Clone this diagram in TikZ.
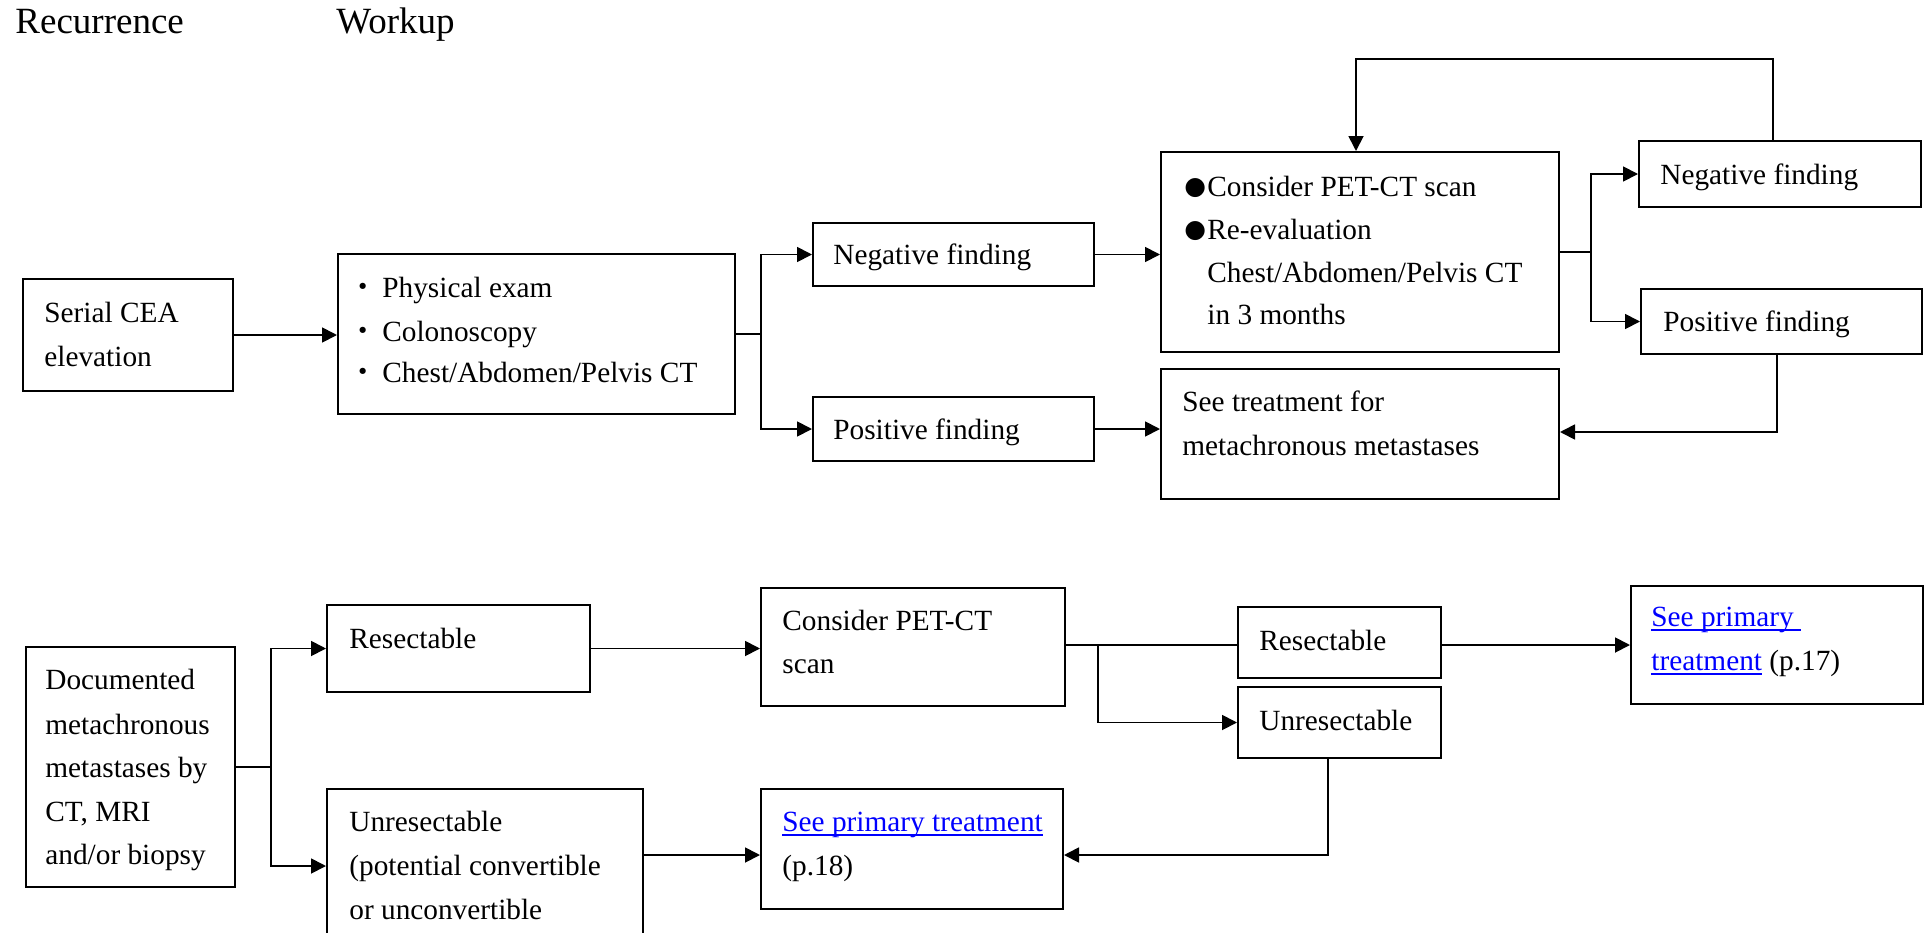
\documentclass[tikz,border=0pt]{standalone}
\usepackage{fontspec}
\setmainfont{Liberation Serif}
\newfontfamily\cjkfont{Noto Sans CJK JP}
\newfontfamily\dvsfont{DejaVu Sans}
\usetikzlibrary{arrows.meta,fit}
\definecolor{linkblue}{RGB}{0,0,255}
\newcommand\lnk[1]{\begingroup\color{linkblue}\setbox0\hbox{#1}\rlap{\rule[-2.3pt]{\wd0}{0.75pt}}\box0\endgroup}
\newcommand\wkdot{\makebox[16.75pt][l]{\cjkfont ・}}
\newcommand\bigdot{\makebox[11.5pt][l]{\raisebox{0.6pt}{\scalebox{0.85}{\dvsfont ●}}}}
\tikzset{
  x=0.5pt, y=-0.5pt,
  box/.style={draw, line width=1pt, inner sep=0pt},
  tx/.style={anchor=base west, inner sep=0pt, font=\fontsize{14.65pt}{20pt}\selectfont},
  ttl/.style={anchor=base west, inner sep=0pt, font=\fontsize{18.5pt}{22pt}\selectfont},
  ln/.style={line width=0.9pt},
  arr/.style={ln, -{Triangle[length=7.5pt,width=7.5pt]}},
}
\begin{document}
\begin{tikzpicture}
\useasboundingbox[fill=white] (0,0) rectangle (1928,932);
% titles
\node[ttl] (rec) at (15,33) {Recurrence};
\node[ttl] (wku) at (336,33) {Workup};
% ---------- top flow ----------
\node[box, fit={(23,279) (233,391)}] (cea) {};
\node[box, fit={(338,254) (735,414)}] (wk) {};
\node[box, fit={(813,223) (1094,286)}] (neg1) {};
\node[box, fit={(813,397) (1094,461)}] (pos1) {};
\node[box, fit={(1161,152) (1559,352)}] (cons) {};
\node[box, fit={(1161,369) (1559,499)}] (seet) {};
\node[box, fit={(1639,141) (1921,207)}] (neg2) {};
\node[box, fit={(1641,289) (1922,354)}] (pos2) {};
% texts
\node[tx] (tcea1) at (44,322) {Serial CEA};
\node[tx] (tcea2) at (44,366) {elevation};
\node[tx] (twk1) at (348.5,297) {\wkdot Physical exam};
\node[tx] (twk2) at (348.5,341) {\wkdot Colonoscopy};
\node[tx] (twk3) at (348.5,382) {\wkdot Chest/Abdomen/Pelvis CT};
\node[tx] (tneg1) at (833,264) {Negative finding};
\node[tx] (tpos1) at (833,439) {Positive finding};
\node[tx] (tcons1) at (1184,196) {\bigdot Consider PET-CT scan};
\node[tx] (tcons2) at (1184,239) {\bigdot Re-evaluation};
\node[tx] (tcons3) at (1207,282) {Chest/Abdomen/Pelvis CT};
\node[tx] (tcons4) at (1207,324) {in 3 months};
\node[tx] (tseet1) at (1182,411) {See treatment for};
\node[tx] (tseet2) at (1182,455) {metachronous metastases};
\node[tx] (tneg2) at (1660,184) {Negative finding};
\node[tx] (tpos2) at (1663,331) {Positive finding};
% connectors
\coordinate (j1) at (761,334);
\coordinate (j2) at (1591,253);
\coordinate (l1) at (1773,59);
\coordinate (l2) at (1356,59);
\coordinate (l3) at (1777,432);
\draw[arr] (cea.east) -- (cea.east -| wk.west);
\draw[ln] (wk.east) -- (wk.east -| j1);
\draw[arr] (wk.east -| j1) |- (neg1.west);
\draw[arr] (wk.east -| j1) |- (pos1.west);
\draw[arr] (neg1.east) -- (neg1.east -| cons.west);
\draw[arr] (pos1.east) -- (pos1.east -| seet.west);
\draw[ln] (cons.east) -- (cons.east -| j2);
\draw[arr] (cons.east -| j2) |- (neg2.west);
\draw[arr] (cons.east -| j2) |- (pos2.west);
\draw[arr] (l1 |- neg2.north) -- (l1) -- (l2) -- (l2 |- cons.north);
\draw[arr] (l3 |- pos2.south) -- (l3) -- (l3 -| seet.east);
% ---------- bottom flow ----------
\node[box, fit={(26,647) (235,887)}] (doc) {};
\node[box, fit={(327,605) (590,692)}] (res1) {};
\node[box, fit={(327,789) (643,943)}] (unres1) {};
\node[box, fit={(761,588) (1065,706)}] (cons2) {};
\node[box, fit={(761,789) (1063,909)}] (sp18) {};
\node[box, fit={(1238,607) (1441,678)}] (res2) {};
\node[box, fit={(1238,687) (1441,758)}] (unres2) {};
\node[box, fit={(1631,586) (1923,704)}] (sp17) {};
% texts
\node[tx] (tdoc1) at (45,689) {Documented};
\node[tx] (tdoc2) at (45,734) {metachronous};
\node[tx] (tdoc3) at (45,777) {metastases by};
\node[tx] (tdoc4) at (45,821) {CT, MRI};
\node[tx] (tdoc5) at (45,864) {and/or biopsy};
\node[tx] (tres1) at (349,648) {Resectable};
\node[tx] (tunres1a) at (349,831) {Unresectable};
\node[tx] (tunres1b) at (349,875) {(potential convertible};
\node[tx] (tunres1c) at (349,919) {or unconvertible};
\node[tx] (tcons2a) at (782,630) {Consider PET-CT};
\node[tx] (tcons2b) at (782,673) {scan};
\node[tx] (tsp18a) at (782,831) {\lnk{See primary treatment}};
\node[tx] (tsp18b) at (782,875) {(p.18)};
\node[tx] (tres2) at (1259,650) {Resectable};
\node[tx] (tunres2) at (1259,730) {Unresectable};
\node[tx] (tsp17a) at (1651,626) {\lnk{See primary\ }};
\node[tx] (tsp17b) at (1651,670) {\lnk{treatment} (p.17)};
% connectors
\coordinate (j3) at (271,765);
\coordinate (j4) at (1098,645);
\coordinate (c5) at (1328,855);
\draw[ln] (doc.east) -- (doc.east -| j3);
\draw[arr] (doc.east -| j3) |- (res1.west);
\draw[arr] (doc.east -| j3) |- (unres1.west);
\draw[arr] (res1.east) -- (res1.east -| cons2.west);
\draw[ln] (cons2.east |- j4) -- (res2.west |- j4);
\draw[arr] (j4) |- (unres2.west);
\draw[arr] (res2.east |- j4) -- (sp17.west |- j4);
\draw[arr] (c5 |- unres2.south) -- (c5) -- (c5 -| sp18.east);
\draw[arr] (unres1.east |- c5) -- (sp18.west |- c5);
\end{tikzpicture}
\end{document}
